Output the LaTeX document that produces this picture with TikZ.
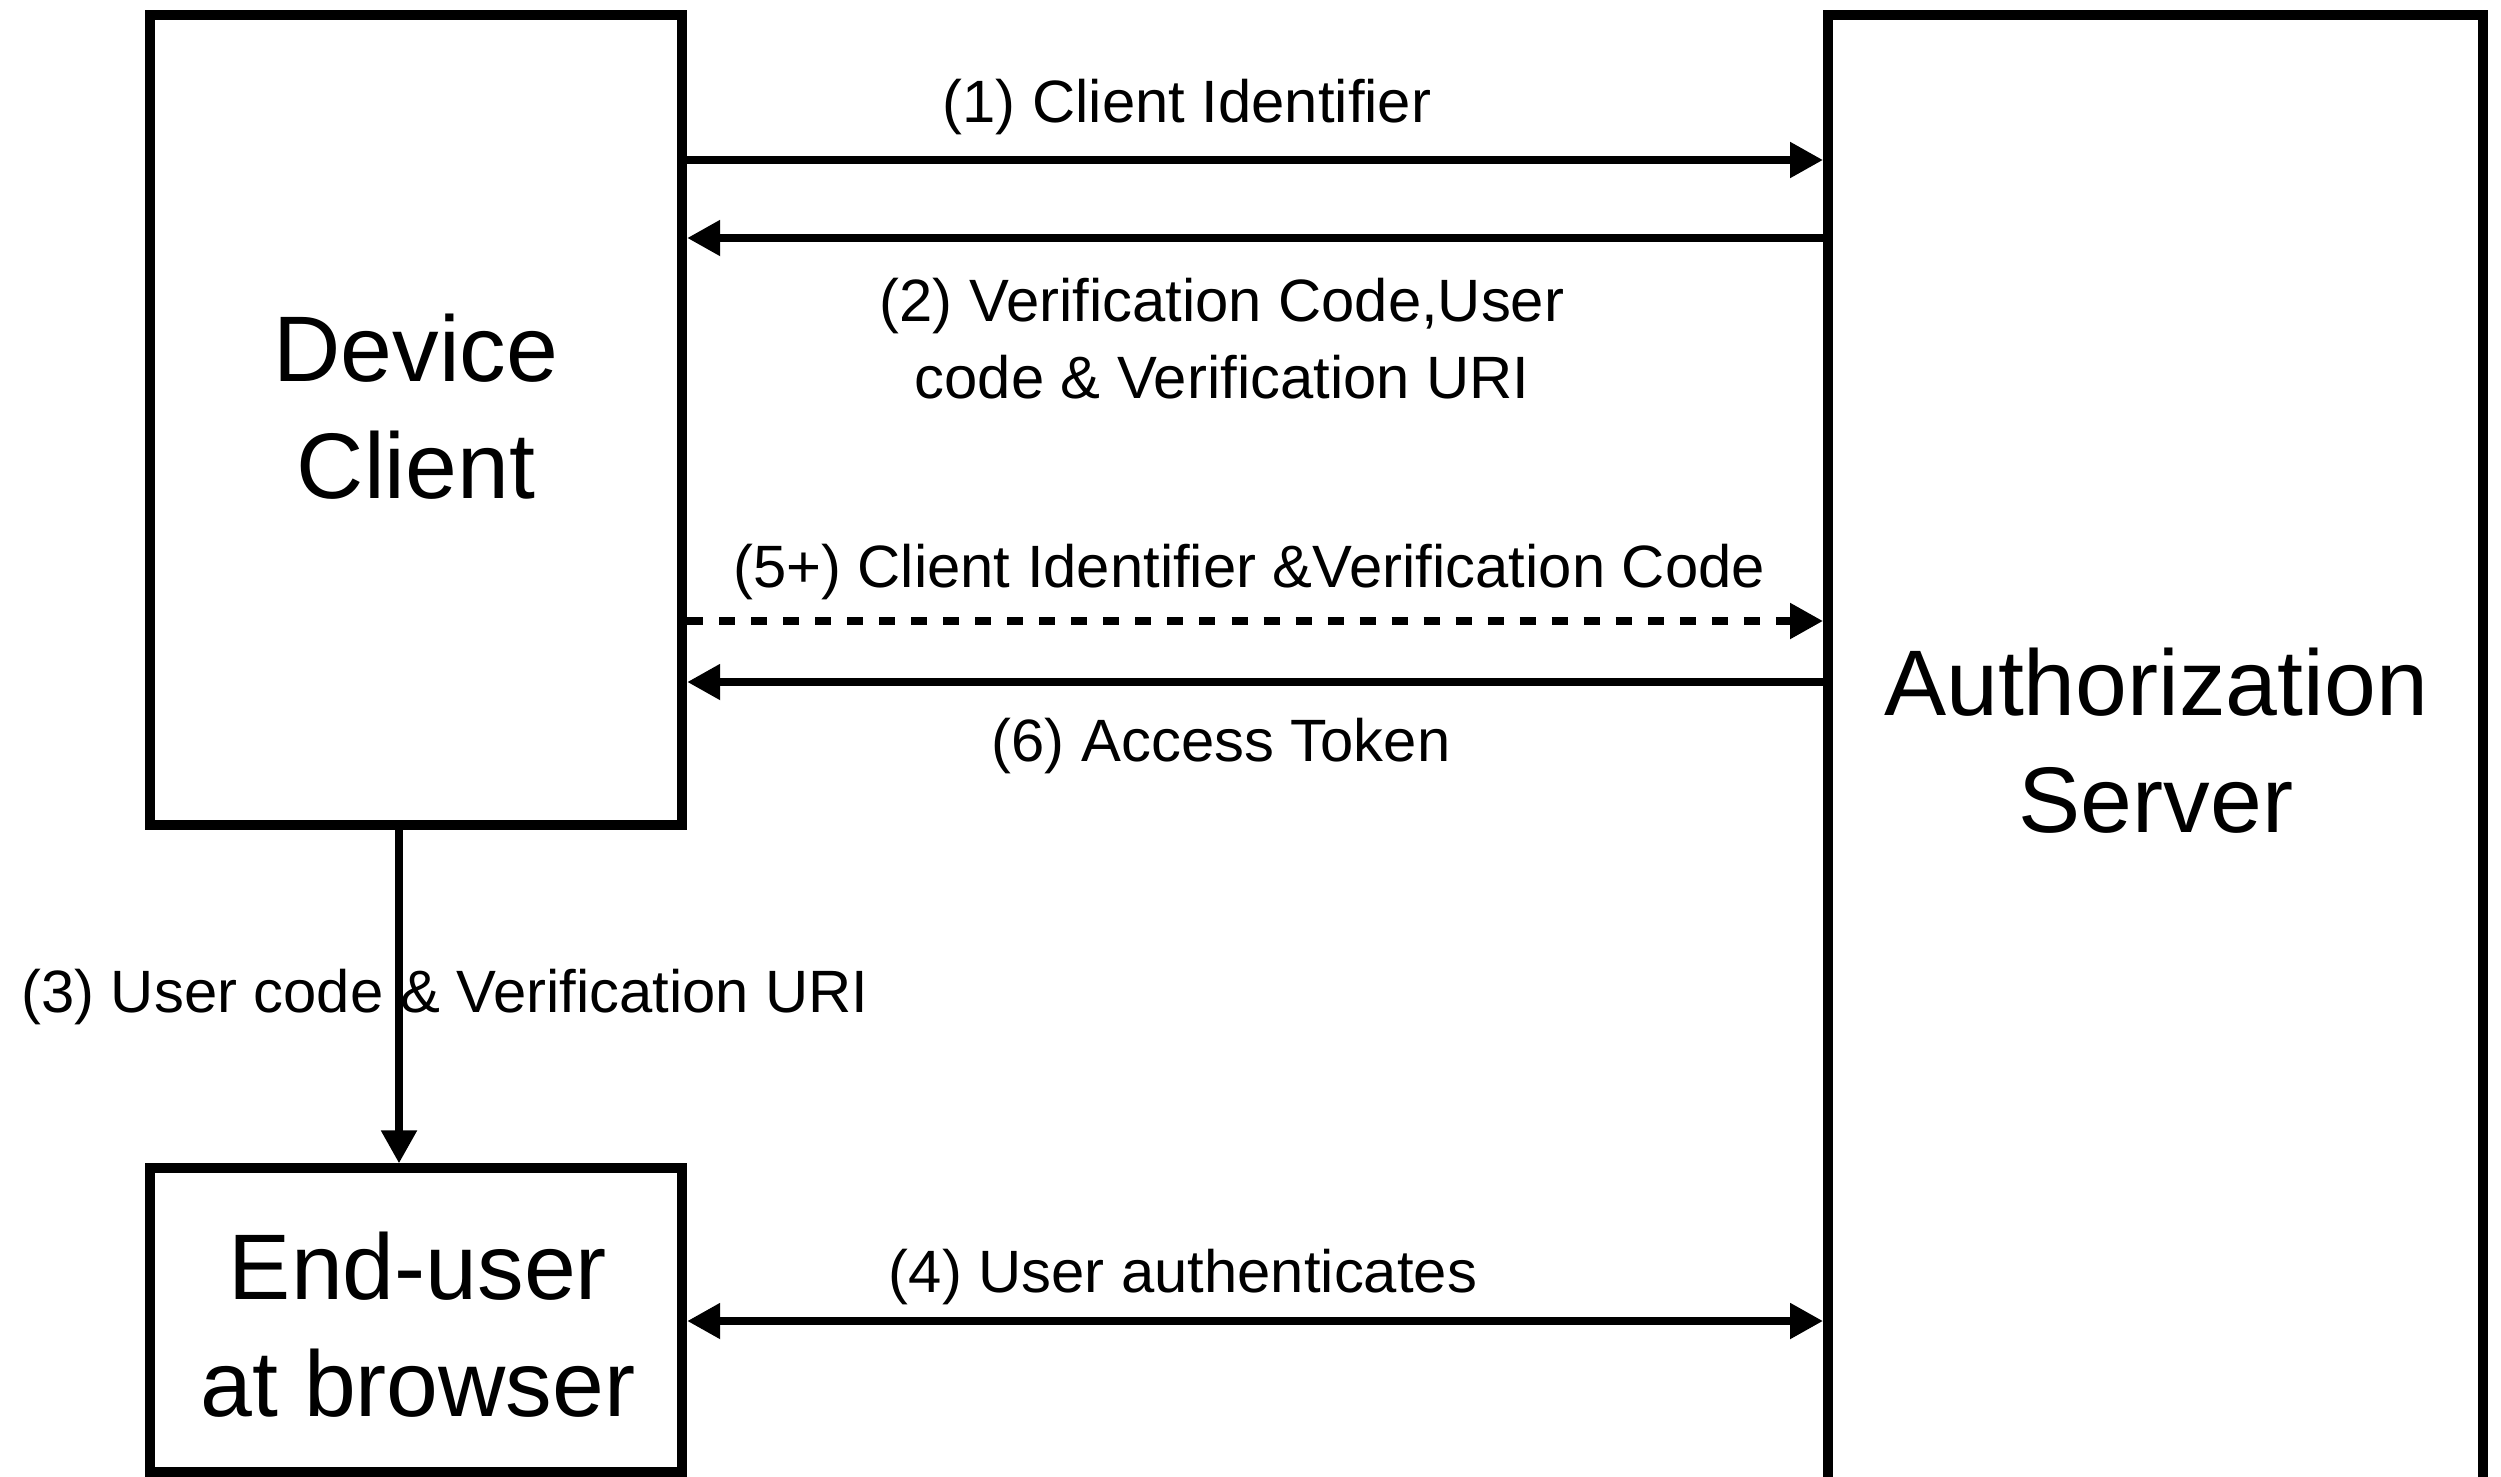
\documentclass[tikz,border=0pt]{standalone}
\usepackage{fontspec}
\setmainfont{Liberation Sans}
\usetikzlibrary{arrows.meta}
\begin{document}
\begin{tikzpicture}[x=0.01cm,y=-0.01cm,
  box/.style={draw, line width=0.1cm, rectangle, inner sep=0pt, minimum width=5.32cm},
  big/.style={font=\fontsize{26.5}{33.2}\selectfont, align=center, anchor=base, inner sep=0pt},
  lbl/.style={font=\fontsize{17}{21.7}\selectfont, align=center, anchor=base, inner sep=0pt},
  tip/.tip={Triangle[length=0.33cm,width=0.34cm]},
  conn/.style={line width=0.08cm, -tip},
  dconn/.style={conn, dash pattern=on 0.16cm off 0.16cm},
  both/.style={line width=0.08cm, tip-tip}]
\useasboundingbox (0,0) rectangle (2501,1476);
\clip (0,0) rectangle (2501,1476);
% boxes
\node[box, minimum height=8.10cm] (dev) at (416,420) {};
\node[box, minimum height=3.03cm] (eu) at (416,1320) {};
\node[box, minimum width=6.547cm, minimum height=15.6cm] (as) at (2155.6,795.3) {};
% box texts (base = baseline of last line)
\node[big] (devt) at (416,498) {Device\\Client};
\node[big] (ast) at (2156,832) {Authorization\\Server};
\node[big] (eut) at (418,1416) {End-user\\at browser};
% rows
\coordinate (r1) at (0,160);
\coordinate (r2) at (0,238);
\coordinate (r5) at (0,621);
\coordinate (r6) at (0,682);
\coordinate (r4) at (0,1321);
\coordinate (c3) at (399,0);
% connectors
\draw[conn] (dev.east |- r1) -- (as.west |- r1);
\draw[conn] (as.west |- r2) -- (dev.east |- r2);
\draw[dconn] (dev.east |- r5) -- (as.west |- r5);
\draw[conn] (as.west |- r6) -- (dev.east |- r6);
\draw[both] (eu.east |- r4) -- (as.west |- r4);
\draw[conn] (dev.south -| c3) -- (eu.north -| c3);
% labels
\node[lbl] (l1) at (1187,123) {(1) Client Identifier};
\node[lbl] (l2) at (1222,398) {(2) Verification Code,User\\code \& Verification URI};
\node[lbl] (l5) at (1249,587) {(5+) Client Identifier \&Verification Code};
\node[lbl] (l6) at (1221,761) {(6) Access Token};
\node[lbl] (l3) at (445,1012) {(3) User code \& Verification URI};
\node[lbl] (l4) at (1183,1292) {(4) User authenticates};
\end{tikzpicture}
\end{document}
